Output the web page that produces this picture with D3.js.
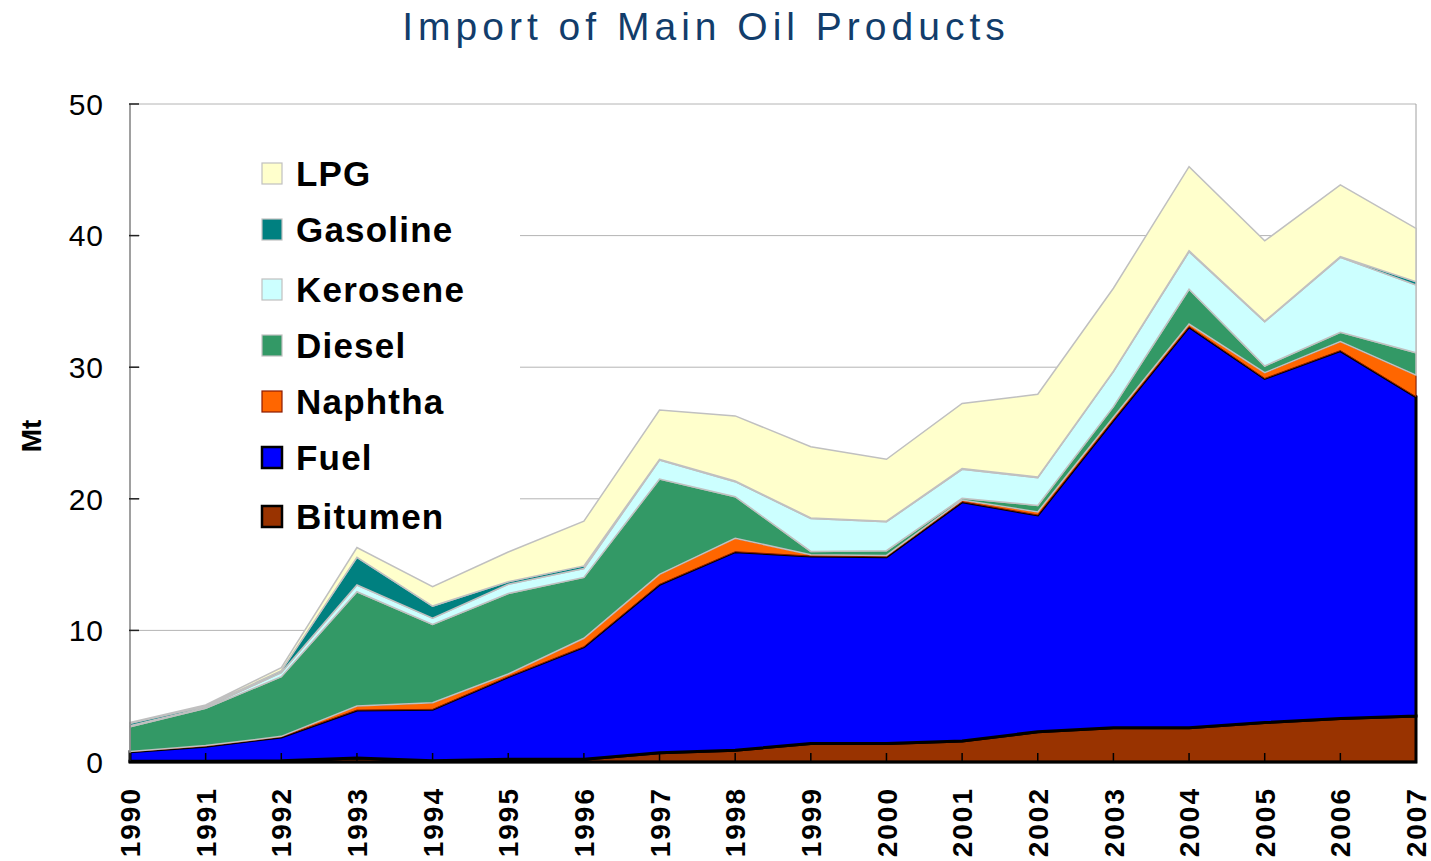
<!DOCTYPE html>
<html lang="en">
<head>
    <meta charset="UTF-8">
    <title>Import of Main Oil Products</title>
    <script src="https://d3js.org/d3.v7.min.js"></script>
    <style>
        body {
            margin: 0;
            background: #fff;
            font-family: Arial, 'Liberation Sans', sans-serif;
        }
        svg { display: block; }
    </style>
</head>
<body>
    <svg width="1431" height="861"></svg>
    <script>
        // values in Mt
        const years = [1990, 1991, 1992, 1993, 1994, 1995, 1996, 1997, 1998, 1999, 2000, 2001, 2002, 2003, 2004, 2005, 2006, 2007];
        const bitumen = [0.05, 0.05, 0.1, 0.3, 0.1, 0.2, 0.2, 0.7, 0.9, 1.4, 1.4, 1.6, 2.3, 2.6, 2.6, 3.0, 3.3, 3.5];
        const fuel = [0.73, 1.15, 1.8, 3.65, 3.9, 6.28, 8.56, 12.8, 15.08, 14.25, 14.2, 18.18, 16.47, 23.4, 30.48, 26.15, 27.96, 24.26];
        const naphtha = [0.02, 0.05, 0.05, 0.31, 0.5, 0.21, 0.64, 0.76, 1.02, 0.1, 0.1, 0.12, 0.23, 0.2, 0.2, 0.43, 0.68, 1.64];
        const diesel = [1.88, 2.83, 4.53, 8.68, 5.96, 6.11, 4.63, 7.24, 3.16, 0.25, 0.36, 0.14, 0.5, 0.8, 2.64, 0.51, 0.71, 1.7];
        const kerosene = [0.07, 0.07, 0.32, 0.51, 0.46, 0.7, 0.67, 1.45, 1.14, 2.5, 2.2, 2.2, 2.1, 2.66, 2.86, 3.37, 5.7, 5.15];
        const gasoline = [0.19, 0.11, 0.14, 2.1, 0.93, 0.2, 0.2, 0.05, 0.05, 0.05, 0.04, 0.06, 0.05, 0.04, 0.07, 0.04, 0.05, 0.25];
        const lpg = [0.06, 0.07, 0.23, 0.75, 1.47, 2.26, 3.4, 3.75, 4.95, 5.41, 4.7, 4.95, 6.29, 6.3, 6.39, 6.1, 5.45, 4.05];
        const yTicks = [0, 10, 20, 30, 40, 50];

        const series = [
            { key: "Bitumen", values: bitumen, fill: "#993300", stroke: "#000", sw: 3 },
            { key: "Fuel", values: fuel, fill: "#0000ff", stroke: "#000", sw: 3 },
            { key: "Naphtha", values: naphtha, fill: "#ff6600", stroke: "#8b1a00", sw: 1 },
            { key: "Diesel", values: diesel, fill: "#339966", stroke: "#c0c0c0", sw: 1.5 },
            { key: "Kerosene", values: kerosene, fill: "#ccffff", stroke: "#c0c0c0", sw: 1.5 },
            { key: "Gasoline", values: gasoline, fill: "#008080", stroke: "#c0c0c0", sw: 1.5 },
            { key: "LPG", values: lpg, fill: "#ffffcc", stroke: "#c0c0c0", sw: 1.5 }
        ];

        const table = years.map((yr, i) => {
            const row = { year: yr };
            series.forEach(s => row[s.key] = s.values[i]);
            return row;
        });

        const plotLeft = 130, plotRight = 1416, plotTop = 104, plotBottom = 762;
        const svg = d3.select("svg");

        const x = d3.scaleLinear().domain([1990, 2007]).range([plotLeft, plotRight]);
        const y = d3.scaleLinear().domain([0, 50]).range([plotBottom, plotTop]);

        // title
        svg.append("text")
            .attr("x", 706).attr("y", 40)
            .attr("text-anchor", "middle")
            .attr("fill", "#123d6b")
            .style("font-size", "39px")
            .style("letter-spacing", "5px")
            .text("Import of Main Oil Products");

        // gridlines
        svg.append("g").selectAll("line")
            .data(yTicks.filter(d => d > 0))
            .join("line")
            .attr("x1", plotLeft).attr("x2", plotRight)
            .attr("y1", d => y(d)).attr("y2", d => y(d))
            .attr("stroke", "#b4b4b4").attr("stroke-width", 1);

        // right border
        svg.append("line")
            .attr("x1", plotRight).attr("x2", plotRight)
            .attr("y1", plotTop).attr("y2", plotBottom)
            .attr("stroke", "#a0a0a0");

        const stacked = d3.stack().keys(series.map(s => s.key))(table);
        const area = d3.area()
            .x(d => x(d.data.year))
            .y0(d => y(d[0]))
            .y1(d => y(d[1]));

        svg.append("g").selectAll("path")
            .data(stacked)
            .join("path")
            .attr("d", area)
            .attr("fill", (d, i) => series[i].fill)
            .attr("stroke", (d, i) => series[i].stroke)
            .attr("stroke-width", (d, i) => series[i].sw)
            .attr("stroke-linejoin", "miter");

        // left axis
        const yAxis = svg.append("g");
        yAxis.append("line")
            .attr("x1", plotLeft).attr("x2", plotLeft)
            .attr("y1", plotTop).attr("y2", plotBottom)
            .attr("stroke", "#808080").attr("stroke-width", 1.5);
        yAxis.selectAll(".tk")
            .data(yTicks)
            .join("line")
            .attr("x1", plotLeft - 1).attr("x2", plotLeft + 9)
            .attr("y1", d => y(d)).attr("y2", d => y(d))
            .attr("stroke", "#222").attr("stroke-width", 1.5);
        yAxis.selectAll("text")
            .data(yTicks)
            .join("text")
            .attr("x", 104).attr("y", d => y(d))
            .attr("dy", "0.36em")
            .attr("text-anchor", "end")
            .style("font-size", "30px")
            .style("letter-spacing", "1px")
            .text(d => d);

        svg.append("text")
            .attr("transform", "translate(41,436) rotate(-90)")
            .attr("text-anchor", "middle")
            .style("font-size", "28px")
            .style("font-weight", "bold")
            .text("Mt");

        // bottom axis
        const xAxis = svg.append("g");
        xAxis.selectAll("line")
            .data(years)
            .join("line")
            .attr("x1", d => x(d)).attr("x2", d => x(d))
            .attr("y1", plotBottom - 9).attr("y2", plotBottom)
            .attr("stroke", "#000").attr("stroke-width", 1.5);
        xAxis.append("line")
            .attr("x1", plotLeft - 1).attr("x2", plotRight + 1)
            .attr("y1", plotBottom).attr("y2", plotBottom)
            .attr("stroke", "#000").attr("stroke-width", 2.5);
        xAxis.selectAll("text")
            .data(years)
            .join("text")
            .attr("transform", d => `translate(${x(d)},787) rotate(-90)`)
            .attr("dy", "0.36em")
            .attr("text-anchor", "end")
            .style("font-size", "28px")
            .style("font-weight", "bold")
            .style("letter-spacing", "2px")
            .text(d => d);

        // legend
        const legend = svg.append("g");
        legend.append("rect")
            .attr("x", 140).attr("y", 138)
            .attr("width", 380).attr("height", 405)
            .attr("fill", "#fff");
        const legendOrder = series.slice().reverse();
        const rowY = [173, 229, 289, 345, 401, 457, 516];
        const rows = legend.selectAll(".row")
            .data(legendOrder)
            .join("g")
            .attr("transform", (d, i) => `translate(261,${rowY[i]})`);
        rows.append("rect")
            .attr("x", 1).attr("y", -10)
            .attr("width", 20).attr("height", 21)
            .attr("fill", d => d.fill)
            .attr("stroke", d => d.stroke)
            .attr("stroke-width", d => d.stroke === "#000" ? 2.5 : 1.2);
        rows.append("text")
            .attr("x", 35).attr("dy", "0.36em")
            .style("font-size", "35px")
            .style("font-weight", "bold")
            .style("letter-spacing", "1.2px")
            .text(d => d.key);
    </script>
</body>
</html>
